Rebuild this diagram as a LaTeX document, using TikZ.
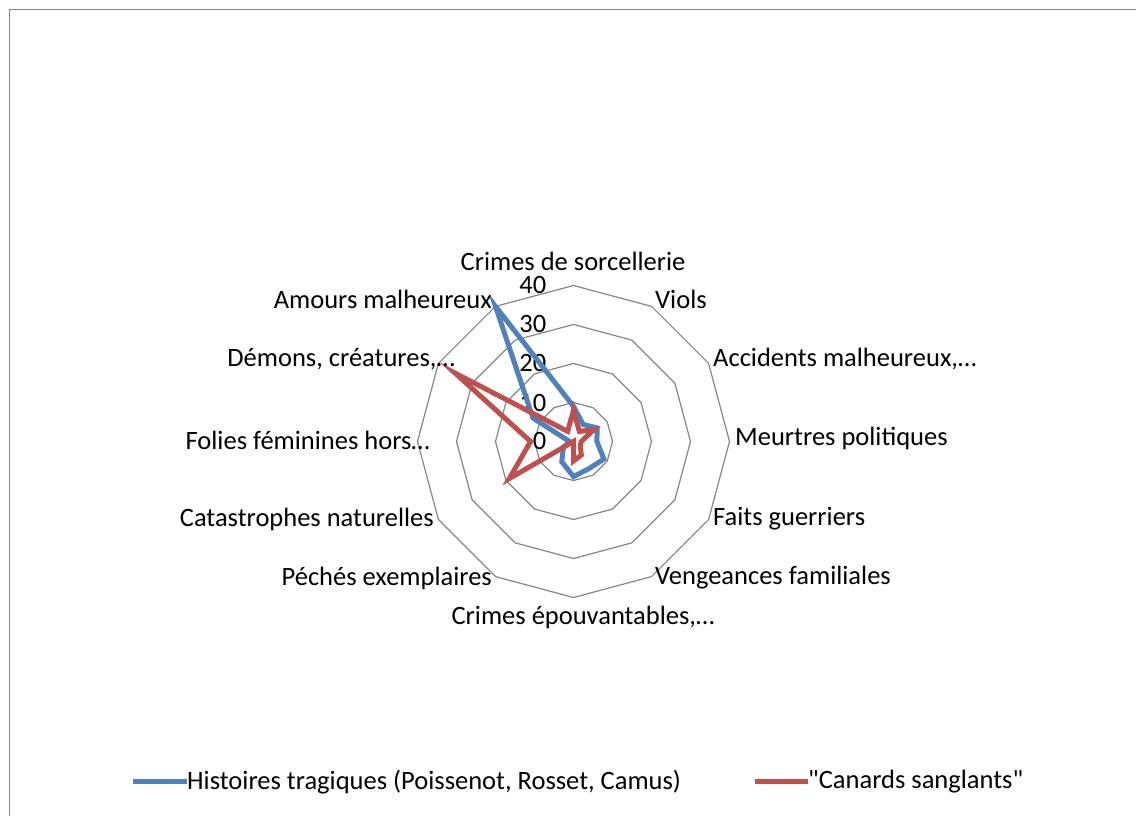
\documentclass[tikz,border=0pt]{standalone}
\usepackage{fontspec}
\setmainfont{Carlito}[Ligatures=TeXOff]
\usetikzlibrary{positioning}
\definecolor{serieblue}{HTML}{4F81BD}
\definecolor{seriered}{HTML}{C0504D}
\definecolor{gridgray}{HTML}{868686}

\begin{document}
\begin{tikzpicture}[x=1pt, y=1pt, every node/.style={font=\fontsize{26.5}{30}\selectfont, inner sep=0pt},
    ring/.style={draw=gridgray, line width=1.2pt},
    serie/.style={line width=5pt, line join=miter}]
    \useasboundingbox (0,0) rectangle (1136,816);
    \clip (0,0) rectangle (1136,816);
    \draw[gridgray, line width=1.5pt] (9.5,-20) rectangle (1160,806.5);
    \begin{scope}[shift={(573.5,374.5)}]
      % rings and ticks
      \foreach \r in {10,20,30,40}
        \draw[ring] (90:3.9*\r) \foreach \a in {60,30,...,-240} { -- (\a:3.9*\r) } -- cycle;
      \foreach \r in {0,10,20,30,40}
        \node[anchor=east] (tick\r) at (-27,3.9*\r) {\r};
      % series
      \foreach \v [count=\i] in {9,5,7,6,9,8,9,6,3,1,12,40}
        \coordinate (b\i) at ({90-30*(\i-1)}:3.9*\v);
      \foreach \v [count=\i] in {8,3,6,2,2,4,5,0,19,11,35,3}
        \coordinate (r\i) at ({90-30*(\i-1)}:3.9*\v);
      \draw[serie, serieblue] (b1) \foreach \i in {2,...,12} { -- (b\i) } -- cycle;
      \draw[serie, seriered] (r1) \foreach \i in {2,...,12} { -- (r\i) } -- cycle;
    \end{scope}
    % category labels
    \node (sorc) at (573,555) {Crimes de sorcellerie};
    \node[anchor=west] (viols) at (655,517) {Viols};
    \node[anchor=west] (accid) at (713,457) {Accidents malheureux,…};
    \node[anchor=west] (meurt) at (735,378) {Meurtres politiques};
    \node[anchor=west] (faits) at (713,297) {Faits guerriers};
    \node[anchor=west] (venge) at (655,238) {Vengeances familiales};
    \node (crimep) at (583,199) {Crimes épouvantables,…};
    \node[anchor=east] (peches) at (492,238) {Péchés exemplaires};
    \node[anchor=east] (catas) at (434,297) {Catastrophes naturelles};
    \node[anchor=east] (folies) at (430,376) {Folies féminines hors…};
    \node[anchor=east] (demons) at (455,457) {Démons, créatures,…};
    \node[anchor=east] (amours) at (492,517) {Amours malheureux};
    % legend
    \node[anchor=west] (histleg) at (187,34) {Histoires tragiques (Poissenot, Rosset, Camus)};
    \node[anchor=west] (canleg) at (808,34) {"Canards sanglants"};
    \coordinate (histl) at (133,34);
    \coordinate (canl) at (755,34);
    \draw[serie, serieblue] (histl) -- (histleg.west);
    \draw[serie, seriered] (canl) -- (canleg.west);
\end{tikzpicture}
\end{document}
